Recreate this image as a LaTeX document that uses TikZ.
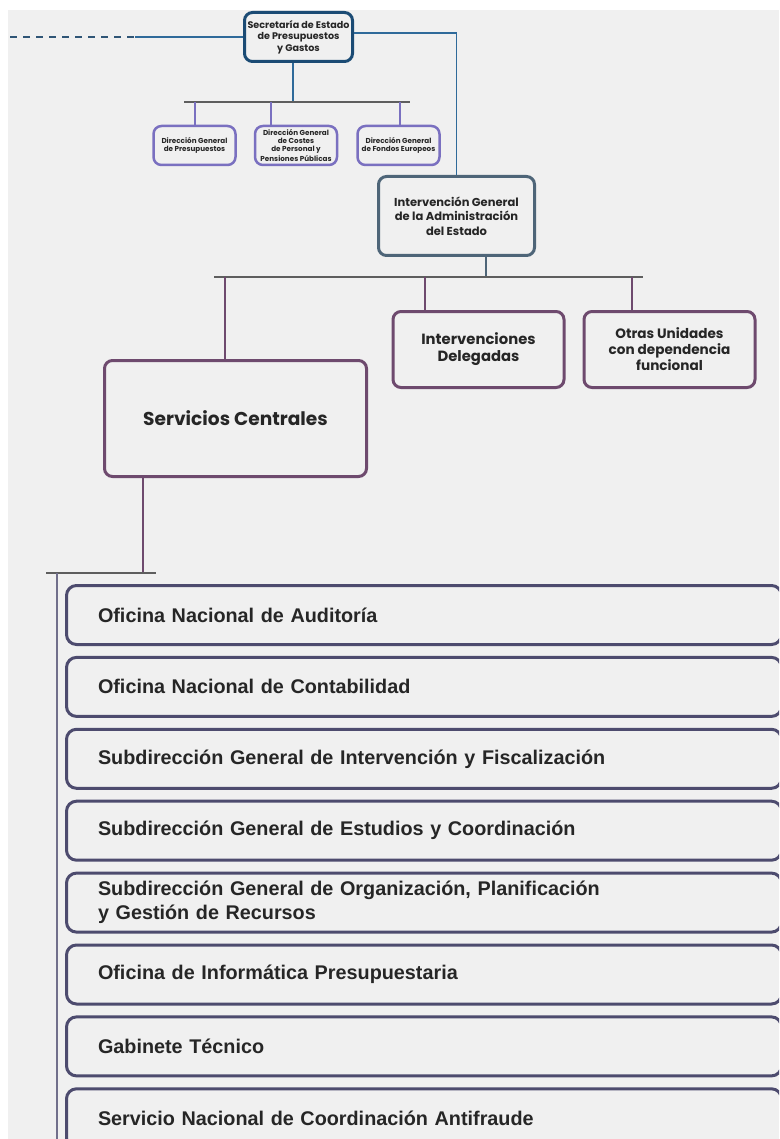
\documentclass[tikz,border=0pt]{standalone}
\usepackage{fontspec}
\setmainfont{Liberation Sans}
\newfontfamily\gothic{Poppins}
\usetikzlibrary{positioning}

\definecolor{fondo}{HTML}{F0F0F0}
\definecolor{azul}{HTML}{1B4B74}
\definecolor{azulclaro}{HTML}{2F6A9A}
\definecolor{lila}{HTML}{7A70C0}
\definecolor{pizarra}{HTML}{4E6578}
\definecolor{ciruela}{HTML}{6E4A6E}
\definecolor{barra}{HTML}{5E5E5E}
\definecolor{fila}{HTML}{4D4B6E}

\begin{document}
\begin{tikzpicture}[x=1pt, y=-1pt,
    caja/.style={draw, rounded corners=8pt, line width=3pt, align=center, inner sep=0pt, text=black!85},
    secbox/.style={caja, draw=azul, minimum width=108pt, minimum height=49pt,
        font=\gothic\bfseries\fontsize{9.6}{11.5}\selectfont},
    dgbox/.style={caja, draw=lila, line width=2.5pt, minimum width=82pt, minimum height=39pt,
        font=\gothic\bfseries\fontsize{7.2}{8.2}\selectfont},
    igbox/.style={caja, draw=pizarra, minimum width=156pt, minimum height=79pt,
        font=\gothic\bfseries\fontsize{11.5}{14.5}\selectfont},
    unidad/.style={caja, draw=ciruela, minimum width=171pt, minimum height=76pt},
    filabox/.style={caja, draw=fila, rounded corners=10pt, align=left, inner xsep=31.5pt,
        text width=652pt, minimum height=59pt, font=\bfseries\fontsize{19.8}{24}\selectfont},
    enlace/.style={line width=1.5pt}]

    \useasboundingbox (0,0) rectangle (779,1139);
    \fill[fondo] (8,10) rectangle (779,1139);
    \clip (0,0) rectangle (779,1139);

    \node[secbox] (sec) at (298.5, 37) {Secretaría de Estado\\de Presupuestos\\y Gastos};

    \node[dgbox] (dg1) at (194.5, 145.5) {Dirección General\\de Presupuestos};
    \node[dgbox] (dg2) at (296, 145.5) {Dirección General\\de Costes\\de Personal y\\[1.5pt]Pensiones Públicas};
    \node[dgbox] (dg3) at (398.5, 145.5) {Dirección General\\de Fondos Europeos};

    \node[igbox] (ig) at (456.5, 216) {Intervención General\\de la Administración\\del Estado};

    \node[unidad, font=\gothic\bfseries\fontsize{14.8}{17}\selectfont] (idel) at (478.5, 349.5)
        {Intervenciones\\Delegadas};
    \node[unidad, font=\gothic\bfseries\fontsize{13.6}{16}\selectfont] (otras) at (669.5, 349.5)
        {Otras Unidades\\con dependencia\\funcional};
    \node[unidad, minimum width=262pt, minimum height=116pt,
        font=\gothic\bfseries\fontsize{18.6}{22}\selectfont] (sc) at (235.5, 418.5) {Servicios Centrales};

    \foreach \t [count=\i from 0] in {
        {Oficina Nacional de Auditoría},
        {Oficina Nacional de Contabilidad},
        {Subdirección General de Intervención y Fiscalización},
        {Subdirección General de Estudios y Coordinación},
        {Subdirección General de Organización, Planificación\\y Gestión de Recursos},
        {Oficina de Informática Presupuestaria},
        {Gabinete Técnico},
        {Servicio Nacional de Coordinación Antifraude}} {
        \node[filabox] (f\i) at (424, 615 + 71.9*\i) {\t};
    }

    \coordinate (dl) at (135, 37);
    \coordinate (dl0) at (10, 37);
    \draw[azul!80!gray, line width=1.3pt, dash pattern=on 7pt off 6pt] (dl0) -- (dl);
    \draw[azulclaro, enlace] (dl) -- (sec.west);
    \draw[azulclaro, enlace] ([yshift=4pt]sec.east) -| (ig.north);

    \coordinate (b1) at (293, 102);
    \coordinate (b1l) at (184, 102);
    \coordinate (b1r) at (410, 102);
    \draw[azulclaro, enlace] (b1 |- sec.south) -- (b1);
    \draw[barra, line width=2pt] (b1l) -- (b1r);
    \foreach \x/\n in {195/dg1, 271/dg2, 400/dg3} {
        \coordinate (r\n) at (\x, 102);
        \draw[lila, enlace] (r\n) -- (r\n |- \n.north);
    }

    \coordinate (b2) at (486, 277);
    \coordinate (b2l) at (214, 277);
    \coordinate (b2r) at (643, 277);
    \draw[pizarra, enlace] (b2 |- ig.south) -- (b2);
    \draw[barra, line width=2pt] (b2l) -- (b2r);
    \foreach \x/\n in {225/sc, 425/idel, 632/otras} {
        \coordinate (r\n) at (\x, 277);
        \draw[ciruela, enlace] (r\n) -- (r\n |- \n.north);
    }

    \coordinate (b3) at (143, 573);
    \coordinate (b3l) at (46, 573);
    \coordinate (b3r) at (156, 573);
    \coordinate (izq) at (57, 573);
    \coordinate (fin) at (57, 1145);
    \draw[ciruela, enlace] (b3 |- sc.south) -- (b3);
    \draw[barra, line width=2pt] (b3l) -- (b3r);
    \draw[fila!80, line width=2pt] (izq) -- (fin);
\end{tikzpicture}
\end{document}
